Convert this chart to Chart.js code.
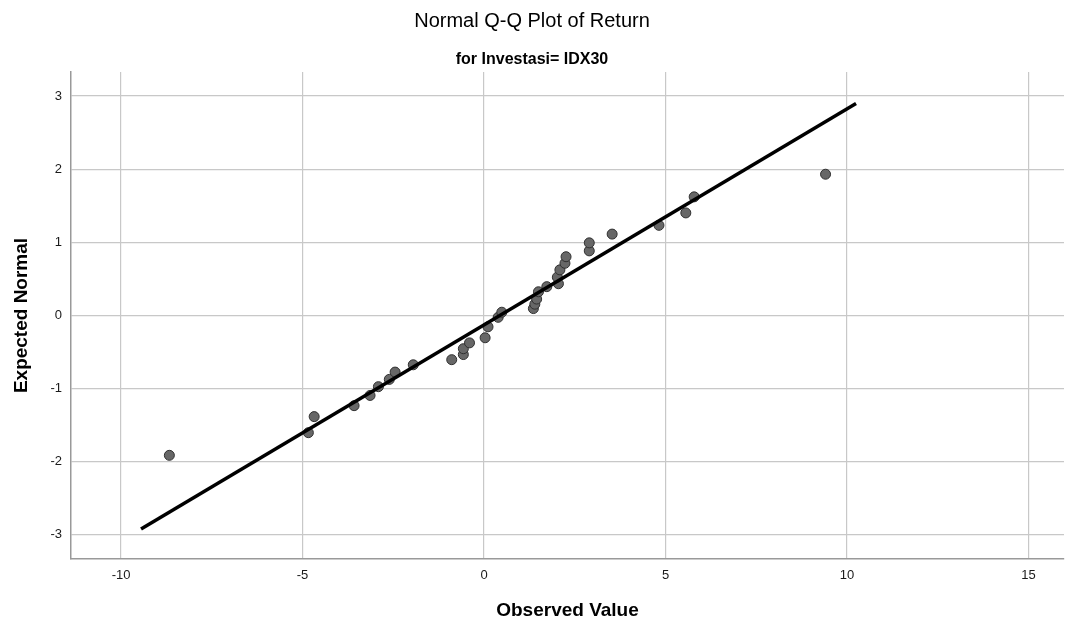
<!DOCTYPE html>
<html>
<head>
<meta charset="utf-8">
<title>Normal Q-Q Plot of Return</title>
<script src="https://cdn.jsdelivr.net/npm/chart.js@4.4.1/dist/chart.umd.min.js"></script>
<style>
  html, body { margin: 0; padding: 0; background: #fff; }
  #wrap { width: 1076px; height: 625px; }
</style>
</head>
<body>
<div id="wrap"><canvas id="qq"></canvas></div>
<script>
const observed = [-8.67, -4.84, -4.68, -3.58, -3.14, -2.91, -2.61, -2.45, -1.95, -0.89,
                  -0.57, -0.57, -0.40, 0.03, 0.11, 0.39, 0.49, 1.36, 1.40, 1.45,
                  1.50, 1.73, 2.05, 2.02, 2.09, 2.23, 2.26, 2.90, 2.90, 3.53,
                  4.82, 5.56, 5.79, 9.41];
const expected = [-1.92, -1.61, -1.39, -1.24, -1.10, -0.98, -0.88, -0.78, -0.68, -0.61,
                  -0.54, -0.46, -0.38, -0.31, -0.16, -0.03, 0.04, 0.09, 0.15, 0.22,
                  0.32, 0.39, 0.43, 0.52, 0.62, 0.71, 0.80, 0.88, 0.99, 1.11,
                  1.23, 1.40, 1.62, 1.93];

// reference line endpoints
const lineX = [-9.45, 10.25];
const lineY = [-2.93, 2.90];

const xTicks = [-10, -5, 0, 5, 10, 15];
const yTicks = [-3, -2, -1, 0, 1, 2, 3];

const FONT = "'Liberation Sans', Arial, sans-serif";

const points = observed.map((v, i) => ({ x: v, y: expected[i] }));
const refLine = lineX.map((v, i) => ({ x: v, y: lineY[i] }));

new Chart(document.getElementById('qq'), {
    type: 'scatter',
    data: {
        datasets: [
            {
                label: 'line',
                data: refLine,
                showLine: true,
                borderColor: '#000',
                borderWidth: 3.5,
                pointRadius: 0,
                order: 0
            },
            {
                label: 'Return',
                data: points,
                backgroundColor: '#676767',
                borderColor: '#303030',
                borderWidth: 1,
                pointRadius: 5,
                order: 1
            }
        ]
    },
    options: {
        responsive: true,
        maintainAspectRatio: false,
        animation: false,
        layout: { padding: { left: 0, right: 12, top: 0, bottom: 0 } },
        plugins: {
            legend: { display: false },
            tooltip: { enabled: false },
            title: {
                display: true,
                text: 'Normal Q-Q Plot of Return',
                color: '#000',
                font: { family: FONT, size: 20, weight: 'normal' },
                padding: { top: 9.5, bottom: 4 }
            },
            subtitle: {
                display: true,
                text: 'for Investasi= IDX30',
                color: '#000',
                font: { family: FONT, size: 16, weight: 'bold' },
                padding: { top: 12, bottom: 3.3 }
            }
        },
        scales: {
            x: {
                type: 'linear',
                min: -11.38,
                max: 15.98,
                afterBuildTicks: s => { s.ticks = xTicks.map(v => ({ value: v })); },
                afterFit: s => { s.height = 66; },
                grid: { color: '#c8c8c8', lineWidth: 1.2, drawTicks: false },
                border: { color: '#999', width: 1.5 },
                ticks: {
                    color: '#1a1a1a',
                    font: { family: FONT, size: 13 },
                    padding: 9
                },
                title: {
                    display: true,
                    text: 'Observed Value',
                    color: '#000',
                    font: { family: FONT, size: 19, weight: 'bold' },
                    padding: { top: 0, bottom: 3 }
                }
            },
            y: {
                type: 'linear',
                min: -3.34,
                max: 3.33,
                afterBuildTicks: s => { s.ticks = yTicks.map(v => ({ value: v })); },
                afterFit: s => { s.width = 71; },
                grid: { color: '#c8c8c8', lineWidth: 1.2, drawTicks: false },
                border: { color: '#999', width: 1.5 },
                ticks: {
                    color: '#1a1a1a',
                    font: { family: FONT, size: 13 },
                    padding: 9
                },
                title: {
                    display: true,
                    text: 'Expected Normal',
                    color: '#000',
                    font: { family: FONT, size: 19, weight: 'bold' },
                    padding: { top: 10, bottom: 0 }
                }
            }
        }
    }
});
</script>
</body>
</html>
